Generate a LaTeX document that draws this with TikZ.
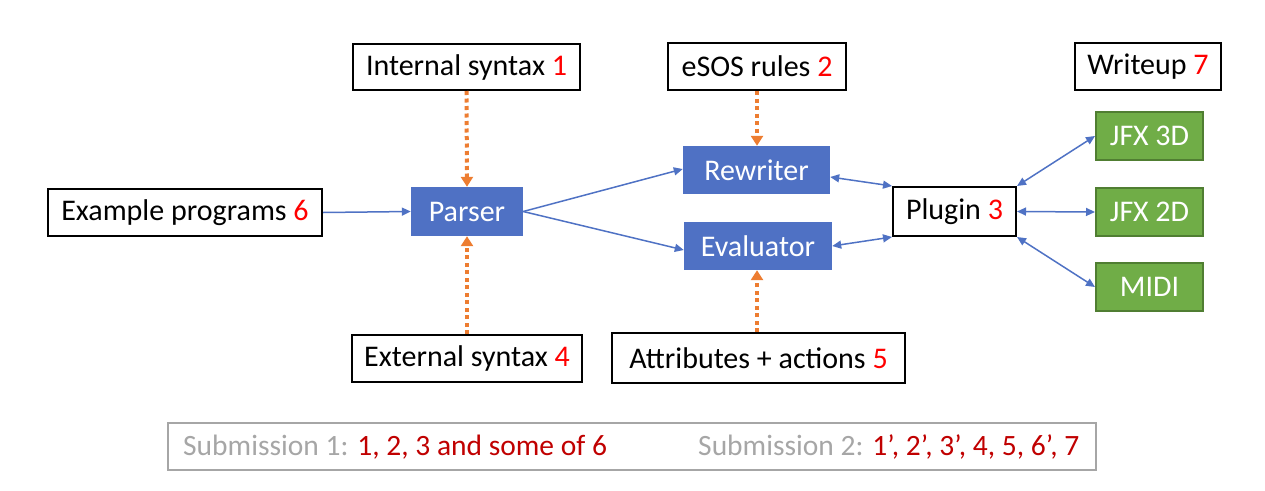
\documentclass[tikz,border=0pt]{standalone}
\usepackage{fontspec}
\setmainfont{Carlito}
\usetikzlibrary{arrows.meta}
\definecolor{bluebox}{HTML}{4F71C4}
\definecolor{bluearrow}{HTML}{4F72C4}
\definecolor{greenbox}{HTML}{70AD47}
\definecolor{greenborder}{HTML}{507E32}
\definecolor{orangearrow}{HTML}{ED7D31}
\definecolor{numred}{HTML}{FF0000}
\definecolor{darkred}{HTML}{C00000}
\definecolor{lightgray}{HTML}{A6A6A6}
\newcommand{\nr}[1]{\textcolor{numred}{#1}}
\tikzset{
  wbox/.style={draw=black, line width=2pt, fill=white, inner sep=0pt, font=\fontsize{30}{34}\selectfont},
  bbox/.style={fill=bluebox, text=white, inner sep=0pt, font=\fontsize{30}{34}\selectfont},
  gbox/.style={fill=greenbox, draw=greenborder, line width=2pt, text=white, inner sep=0pt, font=\fontsize{30}{34}\selectfont},
  barrow/.style={draw=bluearrow, line width=1.5pt, -{Triangle[length=9pt,width=8pt]}},
  bdarrow/.style={draw=bluearrow, line width=1.5pt, {Triangle[length=9pt,width=8pt]}-{Triangle[length=9pt,width=8pt]}},
  oarrow/.style={draw=orangearrow, line width=4pt, dash pattern=on 4pt off 3.5pt, -{Triangle[length=10pt,width=12pt]}},
}
\begin{document}
\begin{tikzpicture}[x=1pt,y=-1pt]
\useasboundingbox (0,0) rectangle (1265,490);
% top row
\node[wbox, minimum width=227pt, minimum height=46pt] (intsyn) at (466.5,67) {Internal syntax \nr{1}};
\node[wbox, minimum width=178pt, minimum height=47pt] (esos) at (757,66.5) {eSOS rules \nr{2}};
\node[wbox, minimum width=146pt, minimum height=47pt] (writeup) at (1148,66.5) {Writeup \nr{7}};
% middle
\node[wbox, minimum width=274pt, minimum height=47pt] (example) at (185,212.5) {Example programs \nr{6}};
\node[bbox, minimum width=112pt, minimum height=49pt] (parser) at (467,211.5) {Parser};
\node[bbox, minimum width=147pt, minimum height=48pt] (rewriter) at (756.5,170) {Rewriter};
\node[bbox, minimum width=148pt, minimum height=48pt] (evaluator) at (758,246) {Evaluator};
\node[wbox, minimum width=123pt, minimum height=49pt] (plugin) at (954.5,211.5) {Plugin \nr{3}};
\node[gbox, minimum width=107pt, minimum height=48pt] (jfx3) at (1149.5,136) {JFX 3D};
\node[gbox, minimum width=107pt, minimum height=48pt] (jfx2) at (1149.5,212) {JFX 2D};
\node[gbox, minimum width=107pt, minimum height=48pt] (midi) at (1149.5,287) {MIDI};
% bottom row
\node[wbox, minimum width=230pt, minimum height=47pt] (extsyn) at (467,358.5) {External syntax \nr{4}};
\node[wbox, minimum width=293pt, minimum height=50pt] (attr) at (758.5,358) {Attributes + actions \nr{5}};
% submissions
\node[draw=lightgray, line width=2pt, minimum width=928pt, minimum height=47pt, inner sep=0pt] (subbox) at (632,446.5) {};
\node[anchor=west, inner sep=0pt, font=\fontsize{29.5}{34}\selectfont] (sub1) at (183,447) {\textcolor{lightgray}{Submission 1:} \textcolor{darkred}{1, 2, 3 and some of 6}};
\node[anchor=west, inner sep=0pt, font=\fontsize{29.5}{34}\selectfont] (sub2) at (698,447) {\textcolor{lightgray}{Submission 2:} \textcolor{darkred}{1’, 2’, 3’, 4, 5, 6’, 7}};
% arrows
\draw[barrow] (example.east) -- (parser.west);
\draw[oarrow] (intsyn.south) -- (parser.north);
\draw[oarrow] (extsyn.north) -- (parser.south);
\draw[oarrow] (esos.south) -- (rewriter.north -| esos.south);
\draw[oarrow] (attr.north -| esos.south) -- (evaluator.south -| esos.south);
\draw[barrow] (parser.east) -- ([yshift=1pt]rewriter.west);
\draw[barrow] (parser.east) -- ([yshift=-4pt]evaluator.west);
\draw[bdarrow] ([yshift=-7pt]rewriter.east) -- (plugin.north west);
\draw[bdarrow] (evaluator.east) -- (plugin.south west);
\draw[bdarrow] (plugin.north east) -- (jfx3.west);
\draw[bdarrow] (plugin.east) -- (jfx2.west);
\draw[bdarrow] (plugin.south east) -- (midi.west);
\end{tikzpicture}
\end{document}
